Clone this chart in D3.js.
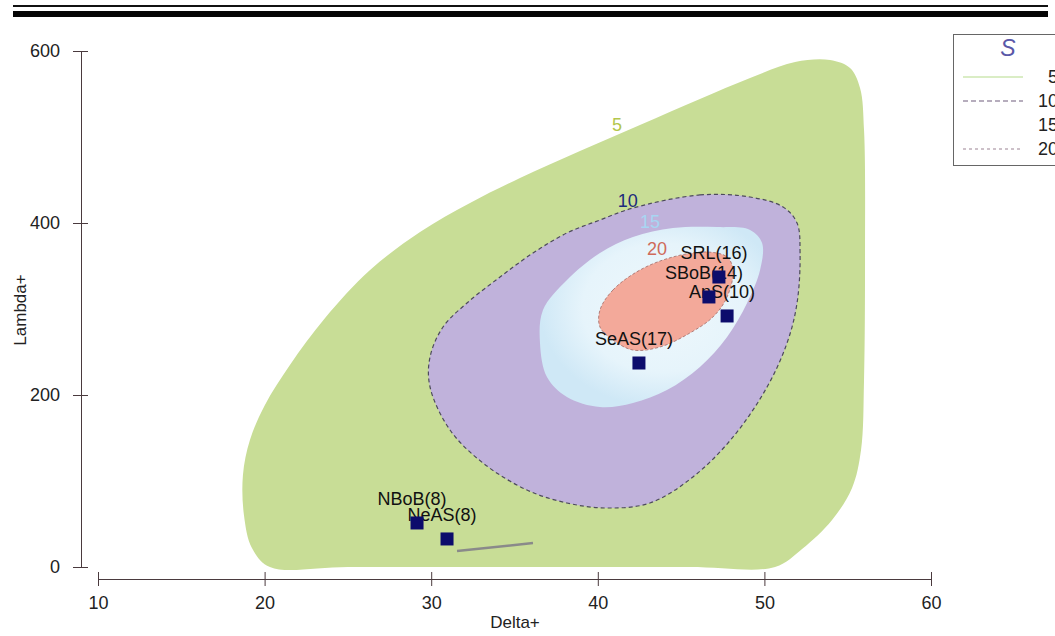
<!DOCTYPE html>
<html><head><meta charset="utf-8">
<script src="https://cdn.jsdelivr.net/npm/d3@7"></script>
<style>body{margin:0;background:#fff}svg{display:block}text{font-family:"Liberation Sans",Arial,sans-serif}</style>
</head><body><svg id="c" width="1055" height="636"></svg>
<script>
// ---- data (Delta+, Lambda+) ----
const xTicks = [10, 20, 30, 40, 50, 60];
const yTicks = [0, 200, 400, 600];
const contour5 = [[20.32,0],[19.24,22.1],[18.76,60.5],[18.70,107.0],[19.12,147.7],[20.02,188.4],[21.52,234.9],[23.63,289.5],[26.33,345.3],[29.33,389.5],[32.33,423.3],[35.33,452.3],[38.93,483.7],[42.53,513.9],[46.13,544.2],[49.14,568.6],[51.84,587.2],[53.94,589.5],[55.14,580.2],[55.74,557.0],[55.98,508.1],[56.04,368.6],[55.98,217.4],[55.80,136.0],[55.26,91.9],[54.06,54.7],[52.26,20.9],[50.64,0],[45.5,0],[35.3,0],[25.0,0]];
const contour10 = [[42.11,417.4],[46.13,432.6],[49.14,430.2],[51.12,418.6],[51.96,400.0],[52.14,365.1],[51.96,307.0],[51.36,260.5],[50.16,209.3],[48.12,151.2],[45.71,104.7],[43.13,74.4],[40.55,68.6],[38.15,74.4],[35.75,89.5],[33.11,120.9],[31.13,159.3],[29.93,209.3],[29.93,244.2],[30.71,279.1],[32.15,307.0],[34.13,337.2],[36.11,365.1],[38.15,388.4],[40.13,403.5]];
const contour15 = [[36.53,260.5],[36.71,298.8],[38.15,333.7],[40.13,365.1],[42.11,383.7],[44.51,394.2],[47.15,395.3],[49.14,391.9],[49.86,376.7],[49.74,345.3],[48.96,307.0],[47.76,267.4],[46.13,232.6],[44.15,205.8],[42.11,190.7],[40.13,186.0],[38.15,197.7],[36.95,220.9]];
const contour20 = [[40.13,298.8],[40.91,322.1],[42.53,345.3],[44.51,360.5],[46.55,366.3],[47.76,360.5],[48.12,345.3],[47.76,314.0],[46.91,290.7],[45.53,272.1],[43.73,255.8],[42.11,252.3],[40.91,264.0],[40.13,279.1]];
const contourLevels = ["5", "10", "15", "20"];
const contourLabelPos = [[41.15,507], [41.8,418.6], [43.13,394], [43.55,362.8]];
const siteNames = ["SRL(16)", "SBoB(14)", "AnS(10)", "SeAS(17)", "NBoB(8)", "NeAS(8)"];
const siteDelta = [47.27, 46.67, 47.76, 42.47, 29.15, 30.95];
const siteLambda = [337.2, 314.0, 291.9, 237.2, 51.2, 32.6];
const graySegment = [[31.55,18.6],[36.11,27.9]];

// ---- drawing ----
const svg = d3.select("#c");
const x = d3.scaleLinear().domain([10, 60]).range([98, 931]);
const y = d3.scaleLinear().domain([0, 600]).range([567, 51]);

// header rules
svg.append("rect").attr("x", 13).attr("y", 5).attr("width", 1035).attr("height", 2).attr("fill", "#111");
svg.append("rect").attr("x", 13).attr("y", 11).attr("width", 1035).attr("height", 6).attr("fill", "#050505");

const defs = svg.append("defs");
const rg = defs.append("radialGradient").attr("id", "blueG").attr("cx", "55%").attr("cy", "45%").attr("r", "55%");
rg.append("stop").attr("offset", "0%").attr("stop-color", "#eef8fc");
rg.append("stop").attr("offset", "65%").attr("stop-color", "#e6f4fb");
rg.append("stop").attr("offset", "100%").attr("stop-color", "#cfe8f6");

const line = d3.line().x(d => x(d[0])).y(d => y(d[1])).curve(d3.curveCatmullRomClosed.alpha(0.5));
const fills = ["#c8dd96", "#c0b2db", "url(#blueG)", "#f3a99a"];
const strokes = ["none", "#4d4a5c", "none", "#a06a66"];
const shapes = [contour5, contour10, contour15, contour20];
shapes.forEach((s, i) => {
  svg.append("path").attr("d", line(s)).attr("fill", fills[i])
    .attr("stroke", strokes[i]).attr("stroke-width", i === 1 ? 1.2 : 0.8)
    .attr("stroke-dasharray", i === 1 ? "4,3" : "3,2");
});

// gray stroke
svg.append("path").attr("d", d3.line().x(d => x(d[0])).y(d => y(d[1]))(graySegment))
  .attr("stroke", "#8a8a8a").attr("stroke-width", 2.5).attr("fill", "none");

// contour labels
const labelColors = ["#b3c64c", "#1c2a7c", "#a7d6f2", "#cf6b5a"];
contourLevels.forEach((t, i) => {
  svg.append("text").attr("x", x(contourLabelPos[i][0])).attr("y", y(contourLabelPos[i][1]))
    .attr("text-anchor", "middle").attr("font-size", 18).attr("fill", labelColors[i]).text(t);
});

// site labels then squares
siteNames.forEach((n, i) => {
  svg.append("text").attr("x", x(siteDelta[i]) - 5).attr("y", y(siteLambda[i]) - 18)
    .attr("text-anchor", "middle").attr("font-size", 18).attr("fill", "#111").text(n);
});
siteNames.forEach((n, i) => {
  svg.append("rect").attr("x", x(siteDelta[i]) - 6.5).attr("y", y(siteLambda[i]) - 6.5)
    .attr("width", 13).attr("height", 13).attr("fill", "#0c0c6c");
});

// axes
const axC = "#4a3a3e";
const gy = svg.append("g").attr("transform", "translate(81,0)")
  .call(d3.axisLeft(y).tickValues(yTicks).tickSizeOuter(0).tickSizeInner(8).tickPadding(13));
gy.selectAll(".tick line").attr("x1", -8).attr("x2", 7).attr("stroke", axC);
gy.select(".domain").attr("stroke", axC);
gy.selectAll("text").attr("font-size", 18).attr("fill", "#222").attr("font-family", "Liberation Sans, Arial, sans-serif");

const gx = svg.append("g").attr("transform", "translate(0,579)")
  .call(d3.axisBottom(x).tickValues(xTicks).tickFormat(d3.format("d")).tickSizeOuter(0).tickSizeInner(7).tickPadding(10));
gx.selectAll(".tick line").attr("y1", -7).attr("y2", 7).attr("stroke", axC);
gx.select(".domain").attr("stroke", axC);
gx.selectAll("text").attr("font-size", 18).attr("fill", "#222").attr("font-family", "Liberation Sans, Arial, sans-serif");

svg.append("text").attr("x", 515).attr("y", 628).attr("text-anchor", "middle").attr("font-size", 17).attr("fill", "#222").text("Delta+");
svg.append("text").attr("transform", "translate(26,310) rotate(-90)").attr("text-anchor", "middle").attr("font-size", 17).attr("fill", "#222").text("Lambda+");

// legend
const lg = svg.append("g");
lg.append("rect").attr("x", 953.5).attr("y", 34.5).attr("width", 120).attr("height", 131).attr("fill", "#fff").attr("stroke", "#666");
lg.append("text").attr("x", 1008).attr("y", 56).attr("text-anchor", "middle").attr("font-size", 23).attr("font-style", "italic").attr("fill", "#5a58a8").text("S");
const legY = [77, 101, 125, 149];
const legStroke = ["#b6dc8c", "#6e5d7c", "none", "#9c8494"];
const legDash = [null, "5,3", null, "3,3"];
contourLevels.forEach((t, i) => {
  lg.append("line").attr("x1", 963).attr("x2", 1023).attr("y1", legY[i]).attr("y2", legY[i])
    .attr("stroke", legStroke[i]).attr("stroke-width", 1.2).attr("stroke-dasharray", legDash[i]);
  lg.append("text").attr("x", 1058).attr("y", legY[i] + 6).attr("text-anchor", "end").attr("font-size", 18).attr("fill", "#222").text(t);
});
</script></body></html>
